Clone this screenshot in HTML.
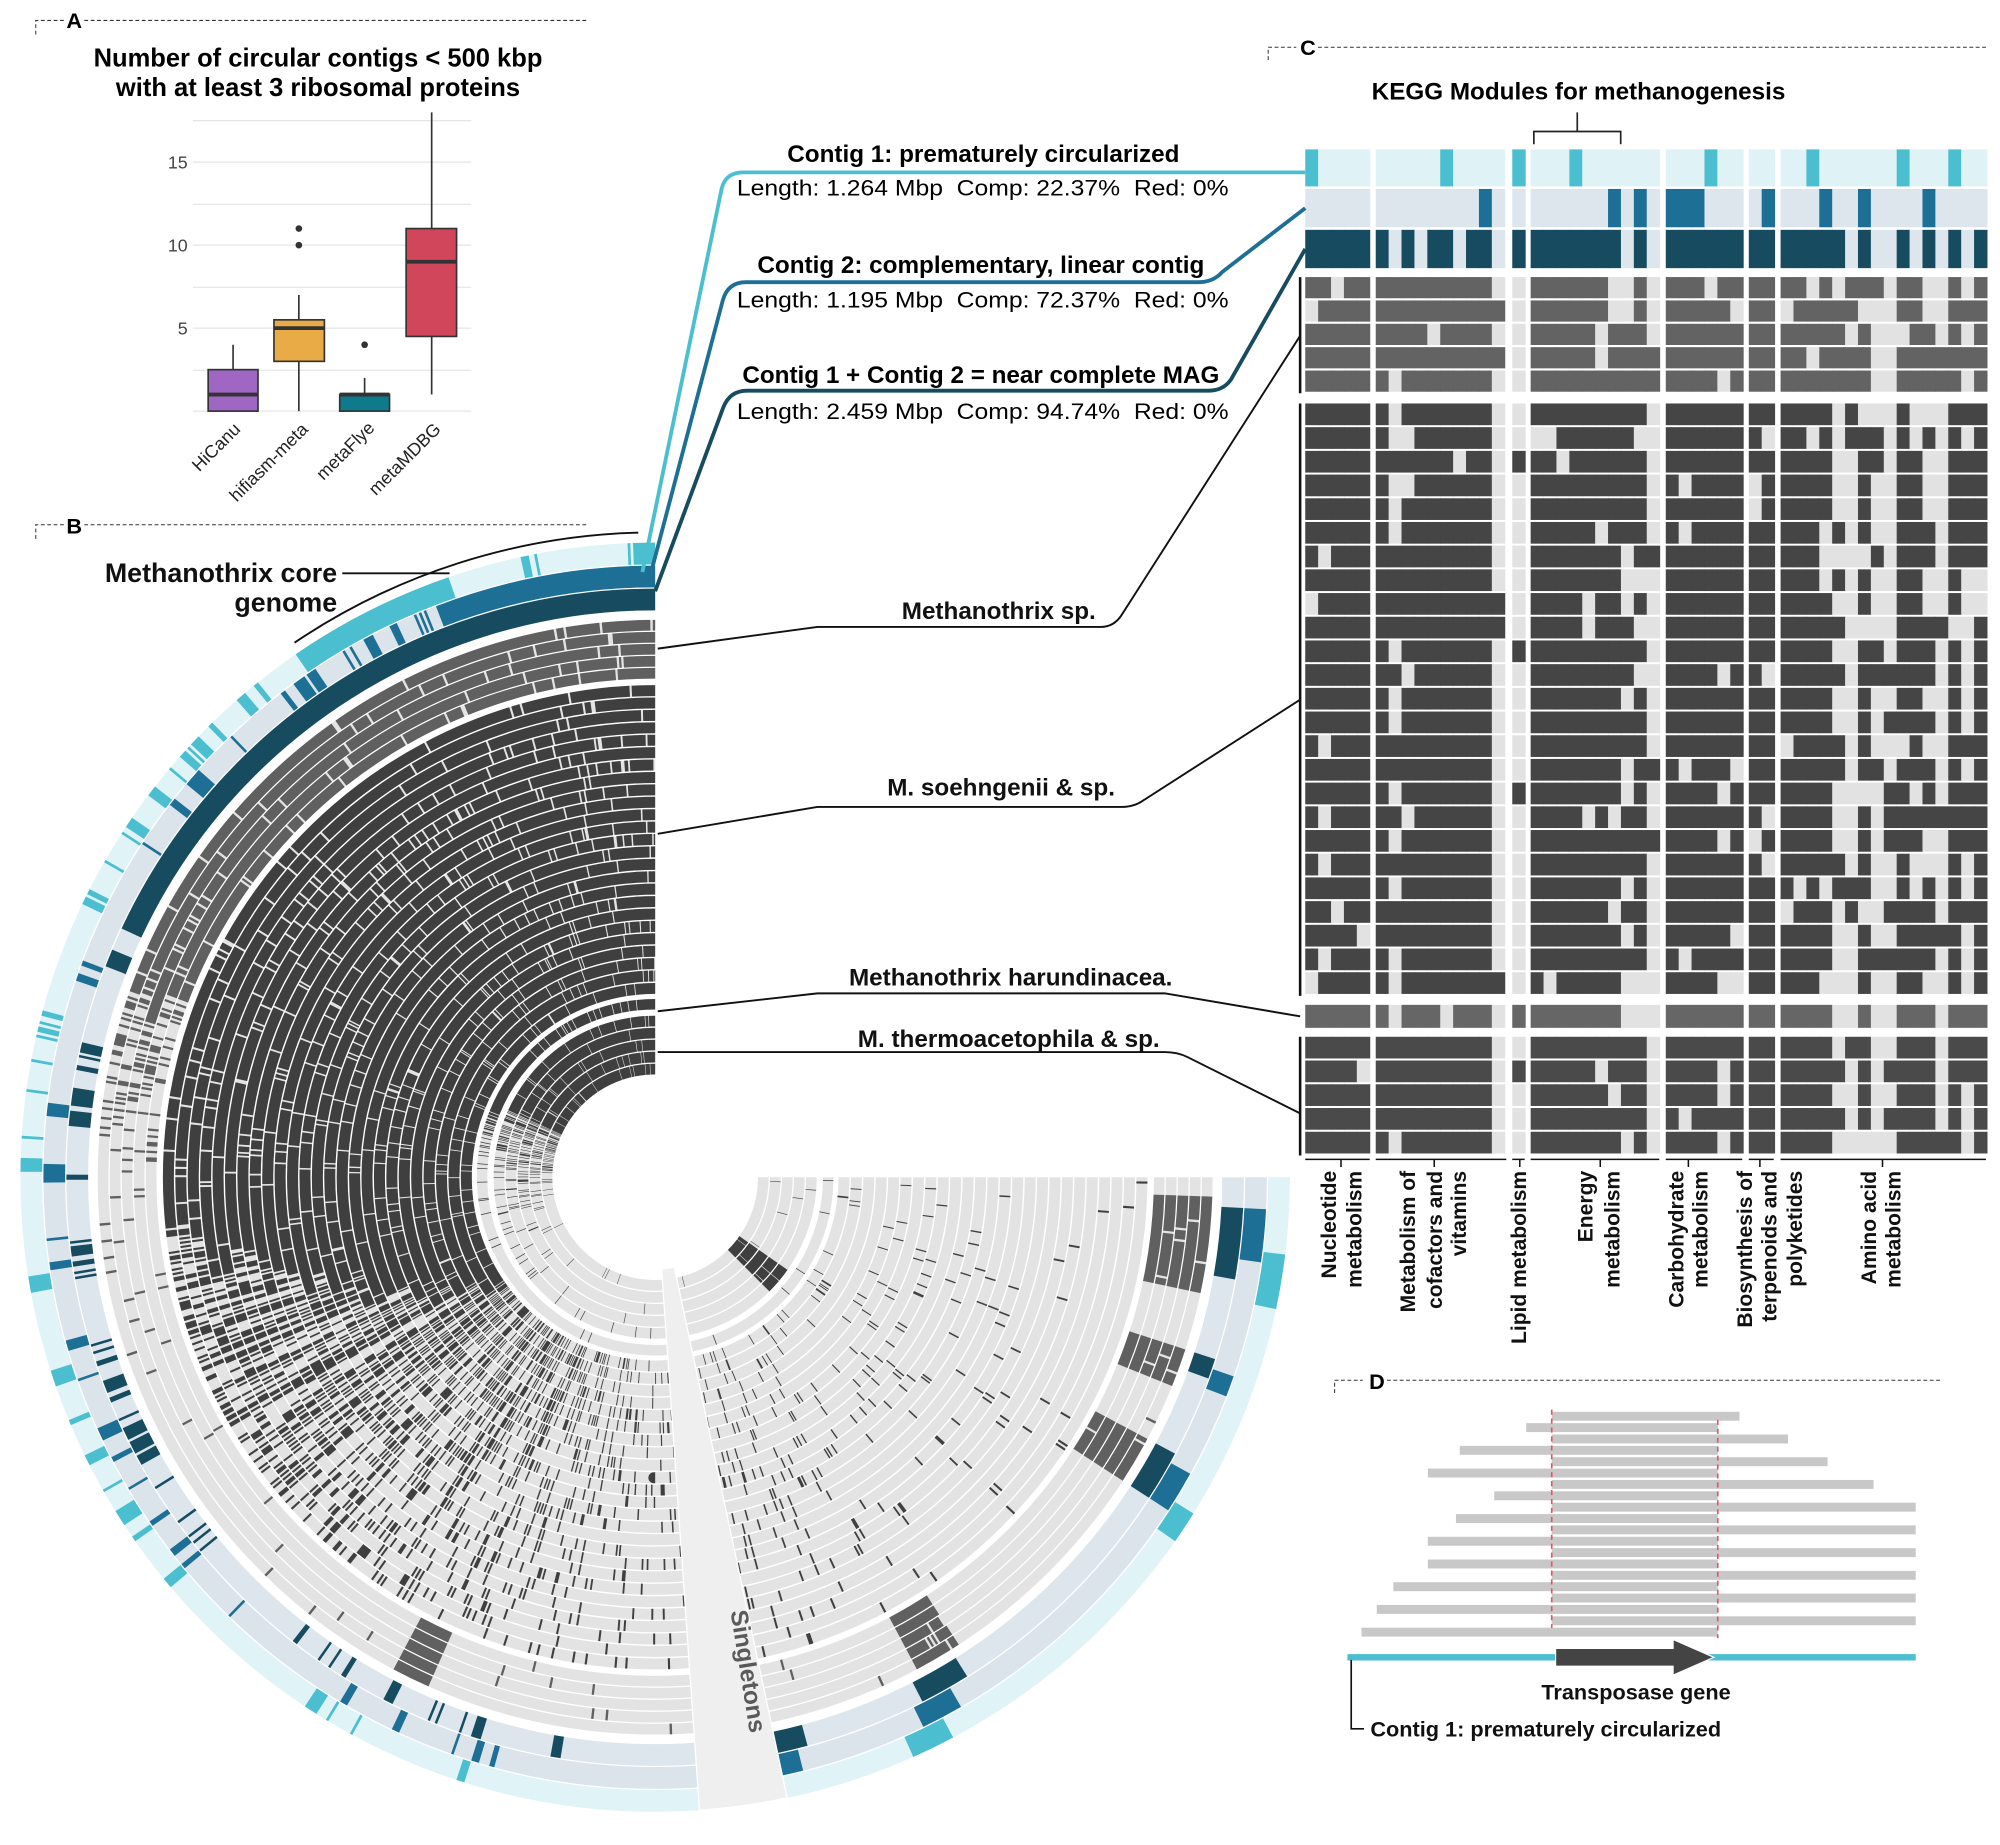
<!DOCTYPE html>
<html><head><meta charset="utf-8">
<style>
html,body{margin:0;padding:0;background:#fff;}
svg{display:block;}
.n{font-family:"Liberation Sans Narrow","Liberation Sans",sans-serif;font-weight:bold;}
.b{font-family:"Liberation Sans",sans-serif;font-weight:bold;}
.r{font-family:"Liberation Sans",sans-serif;}
</style></head>
<body>
<svg id="s" xmlns="http://www.w3.org/2000/svg" width="2000" height="1845" viewBox="0 0 1566 1445" preserveAspectRatio="none">
<rect width="1566" height="1445" fill="#fff"/>
<g stroke="#333" stroke-width="0.8" stroke-dasharray="3,2" fill="none">
<path d="M28 27 V16 H50"/><path d="M66 16 H460"/>
<path d="M28 422 V411 H50"/><path d="M66 411 H460"/>
<path d="M993 47 V37 H1015"/><path d="M1032 37 H1555"/>
<path d="M1045 1091 V1081 H1067"/><path d="M1086 1081 H1520"/>
</g>
<text class="n" x="52" y="22" font-size="17">A</text>
<text class="n" x="52" y="418" font-size="17">B</text>
<text class="n" x="1018" y="43" font-size="17">C</text>
<text class="n" x="1072" y="1088" font-size="17">D</text>

<text class="n" x="249" y="52" font-size="20" text-anchor="middle">Number of circular contigs &lt; 500 kbp</text>
<text class="n" x="249" y="75" font-size="20" text-anchor="middle">with at least 3 ribosomal proteins</text>
<g stroke="#e6e6e6" stroke-width="1">
<line x1="151" x2="369" y1="94.5" y2="94.5"/><line x1="151" x2="369" y1="127" y2="127"/>
<line x1="151" x2="369" y1="160" y2="160"/><line x1="151" x2="369" y1="192" y2="192"/>
<line x1="151" x2="369" y1="225" y2="225"/><line x1="151" x2="369" y1="257" y2="257"/>
<line x1="151" x2="369" y1="290" y2="290"/><line x1="151" x2="369" y1="322" y2="322"/>
</g>
<g class="r" font-size="14" fill="#444" text-anchor="end">
<text x="147" y="132">15</text><text x="147" y="197">10</text><text x="147" y="262">5</text>
</g>
<g stroke="#333" stroke-width="1.3">
<line x1="182.5" x2="182.5" y1="270" y2="289.5"/>
<rect x="163" y="289.5" width="39" height="32.5" fill="#a066c4"/>
<line x1="163" x2="202" y1="309" y2="309" stroke-width="3"/>
<line x1="234" x2="234" y1="231" y2="322"/>
<rect x="214.5" y="250.5" width="39.5" height="32.5" fill="#e9ab45"/>
<line x1="214.5" x2="254" y1="257" y2="257" stroke-width="3"/>
<line x1="285.5" x2="285.5" y1="296" y2="309"/>
<rect x="266" y="309" width="39" height="13" fill="#0f7a8c"/>
<line x1="266" x2="305" y1="309" y2="309" stroke-width="3"/>
<line x1="338" x2="338" y1="88" y2="309"/>
<rect x="318" y="179" width="39.5" height="84.5" fill="#d1465a"/>
<line x1="318" x2="357.5" y1="205" y2="205" stroke-width="3"/>
</g>
<g fill="#333"><circle cx="234" cy="179" r="2.6"/><circle cx="234" cy="192" r="2.6"/><circle cx="285.5" cy="270" r="2.6"/></g>
<g class="r" font-size="14" fill="#222" text-anchor="end">
<text transform="translate(189,337) rotate(-45)">HiCanu</text>
<text transform="translate(242,337) rotate(-45)">hifiasm-meta</text>
<text transform="translate(294,336) rotate(-45)">metaFlye</text>
<text transform="translate(346,337) rotate(-45)">metaMDBG</text>
</g>

<g id="circ"></g>
<g id="heat"></g>

<text class="n" x="1236" y="78" font-size="19" text-anchor="middle">KEGG Modules for methanogenesis</text>
<path d="M1201 113 V103 H1269 V113 M1235 103 V88" stroke="#222" stroke-width="1.3" fill="none"/>

<text class="n" x="770" y="127" font-size="19" text-anchor="middle">Contig 1: prematurely circularized</text>
<text class="r" x="577" y="153" font-size="17.5" textLength="385" lengthAdjust="spacingAndGlyphs">Length: 1.264 Mbp&#160;&#160;Comp: 22.37%&#160;&#160;Red: 0%</text>
<text class="n" x="768" y="214" font-size="19" text-anchor="middle">Contig 2: complementary, linear contig</text>
<text class="r" x="577" y="241" font-size="17.5" textLength="385" lengthAdjust="spacingAndGlyphs">Length: 1.195 Mbp&#160;&#160;Comp: 72.37%&#160;&#160;Red: 0%</text>
<text class="n" x="768" y="300" font-size="19" text-anchor="middle">Contig 1 + Contig 2 = near complete MAG</text>
<text class="r" x="577" y="328" font-size="17.5" textLength="385" lengthAdjust="spacingAndGlyphs">Length: 2.459 Mbp&#160;&#160;Comp: 94.74%&#160;&#160;Red: 0%</text>

<g fill="none" stroke-linejoin="round">
<path d="M503 448 L565 148 Q568 135 582 135 L1022 135" stroke="#4bbfd0" stroke-width="3"/>
<path d="M508 455 L566 235 Q570 221 584 221 L938 221 Q950 221 957 213 L1022 163" stroke="#1d6f96" stroke-width="3"/>
<path d="M513 463 L566 320 Q571 306 585 306 L946 306 Q958 306 964 297 L1022 195" stroke="#174b5f" stroke-width="3"/>
<g stroke="#111" stroke-width="1.5">
<path d="M515 508 L640 491 L862 491 Q872 491 878 482 L1018 263"/>
<path d="M515 653 L640 632 L878 632 Q888 632 895 627 L1018 548"/>
<path d="M515 792 L640 778 L912 778 L1018 796"/>
<path d="M515 824 L912 824 Q922 824 930 828 L1018 872"/>
<path d="M1018 217 V308 M1018 316 V780 M1018 812 V905" stroke-width="2"/>
<path d="M268 449 H352"/>
<path id="corearc" d=""/>
</g>
</g>
<g class="b" font-size="19" fill="#111" text-anchor="end">
<text x="858" y="485">Methanothrix sp.</text>
<text x="873" y="623">M. soehngenii &amp; sp.</text>
<text x="918" y="772">Methanothrix harundinacea.</text>
<text x="908" y="820">M. thermoacetophila &amp; sp.</text>
<text x="264" y="456" font-size="21">Methanothrix core</text>
<text x="264" y="479" font-size="21">genome</text>
</g>

<g id="collab" class="n" font-size="16.5" fill="#111" text-anchor="end"></g>

<g id="pd"></g>
<text class="b" x="1281" y="1331" font-size="17" text-anchor="middle" fill="#111">Transposase gene</text>
<path d="M1058 1300 V1354 H1068" stroke="#111" stroke-width="1.3" fill="none"/>
<text class="b" x="1073" y="1360" font-size="17" fill="#111">Contig 1: prematurely circularized</text>
</svg>
<script>
(function(){
function mb(a){return function(){a|=0;a=a+0x6D2B79F5|0;var t=Math.imul(a^a>>>15,1|a);t=t+Math.imul(t^t>>>7,61|t)^t;return((t^t>>>14)>>>0)/4294967296;}}
var rng=mb(12345);
var cx=513,cy=922;
function pt(r,a){var t=a*Math.PI/180;return [cx+r*Math.cos(t),cy+r*Math.sin(t)];}
function arcD(r,a1,a2){var p1=pt(r,a1),p2=pt(r,a2);var L=(a2-a1)>180?1:0;return 'M'+p1[0].toFixed(2)+' '+p1[1].toFixed(2)+'A'+r+' '+r+' 0 '+L+' 1 '+p2[0].toFixed(2)+' '+p2[1].toFixed(2);}
var out=[];
function addRow(r,w,bins,step,base,col){
  out.push('<path d="'+arcD(r,0,270)+'" stroke="'+base+'" stroke-width="'+w+'" fill="none"/>');
  var d='',i=0,N=bins.length;
  while(i<N){ if(bins[i]){var j=i;while(j<N&&bins[j])j++; d+=arcD(r,i*step,j*step); i=j;} else i++; }
  if(d) out.push('<path d="'+d+'" stroke="'+col+'" stroke-width="'+w+'" fill="none"/>');
}
var step=0.25,N=1080;
var w=[];for(var b=0;b<N;b++)w.push(rng());
function inR(th,arr){for(var k=0;k<arr.length;k++)if(th>=arr[k][0]&&th<=arr[k][1])return true;return false;}
function ringBins(fn){var bins=[],run=0;for(var b=0;b<N;b++){var th=(b+0.5)*step;if(run>0){bins.push(1);run--;continue;}var p=fn(th);if(p>=1){bins.push(1);continue;}if(p<0){bins.push(0);continue;}if(rng()<p){bins.push(1);run=Math.floor(rng()*rng()*8);}else bins.push(0);}return bins;}
var r3=ringBins(function(t){if(t>205)return 1;if(inR(t,[[3,10],[18,20],[28,33],[58,63],[75,78]]))return 1;if(t>150)return 0.14;if(t>95)return 0.06;return -1;});
var r2=ringBins(function(t){if(t>249)return 1;if(inR(t,[[3,8],[19,21],[29,33],[60,64],[76,79]]))return 1;if(t>195)return 0.1;if(t>100)return 0.05;return -1;});
var r1=ringBins(function(t){if(t>268)return 1;if(t>236&&t<251)return 1;if(inR(t,[[7,12],[32,35],[62,66]]))return 1;if(t>130&&t<236)return 0.08;if(t>95)return 0.04;return -1;});
addRow(488.5,17,r1,step,'#e0f3f7','#4bbfd0');
addRow(470.5,17,r2,step,'#dbe4ea','#1d6f96');
addRow(452.5,17,r3,step,'#dde6ec','#174b5f');
var rows=[];
for(var k=0;k<5;k++)rows.push({g:1,r:437-4.7-k*9.4,w:8.4});
for(var k=0;k<25;k++)rows.push({g:2,r:386-4.86-k*9.72,w:8.6,k:k});
rows.push({g:3,r:135.5,w:8.2});
for(var k=0;k<5;k++)rows.push({g:4,r:127-4.7-k*9.4,w:8.4});
rows.forEach(function(R,ri){
  var T,dec,blocks=[];
  if(R.g==1){T=196+rng()*6;dec=10;blocks=[[2,12],[18,22],[28,33],[57,62],[114,118]];}
  else if(R.g==2){T=172-R.k*1.2+rng()*6;dec=34;}
  else if(R.g==3){T=202;dec=12;}
  else {T=205;dec=18;blocks=[[35,45]];}
  var bins=[];
  for(var b=0;b<N;b++){var th=(b+0.5)*step;var p;
    if(th>T)p=0.95;else p=0.65*Math.exp(-(T-th)/dec)+0.008;
    if(inR(th,blocks))p=0.97;
    if(p<0.9)p=Math.min(1,p*(0.1+2.6*w[b]*w[b]));
    bins.push(rng()<p?1:0);}
  addRow(R.r,R.w,bins,step,'#e3e3e3',R.g==1?'#606060':'#3f3f3f');
});
var a=pt(72,78),b2=pt(497,78),c=pt(497,86),d=pt(72,86);
out.push('<path d="M'+a+' L'+b2+' A497 497 0 0 1 '+c+' L'+d+' A72 72 0 0 0 '+a+'Z" fill="#efefef" stroke="#fff" stroke-width="1"/>');
out.push('<text class="b" font-size="19" fill="#5a5a5a" transform="translate(572,1262) rotate(81)">Singletons</text>');
document.getElementById('circ').innerHTML=out.join('');
var p1=pt(505,236),p2=pt(505,268.5);
document.getElementById('corearc').setAttribute('d','M'+p1[0]+' '+p1[1]+' A505 505 0 0 1 '+p2[0]+' '+p2[1]);
var gs=[1022,1077.2,1184.1,1198.5,1304.3,1369.3,1394.2],gc=[5,10,1,10,6,2,16],cw=10.1;
var cols=[];for(var g=0;g<7;g++)for(var k=0;k<gc[g];k++)cols.push({x:gs[g]+k*cw,g:g});
var h=[];
function topRow(y,hh,base,col,set){cols.forEach(function(C,i){h.push('<rect x="'+C.x+'" y="'+y+'" width="'+(cw+0.4)+'" height="'+hh+'" fill="'+(set.indexOf(i)>=0?col:base)+'"/>');});}
topRow(117,29,'#dff3f7','#4bbfd0',[0,10,15,19,29,36,43,47]);
topRow(148,30,'#dde6ec','#1d6f96',[13,22,24,26,27,28,33,37,40,45]);
topRow(180,30,'#dde6ec','#174b5f',[0,1,2,3,4,5,7,9,10,12,13,15,16,17,18,19,20,21,22,24,26,27,28,29,30,31,32,33,34,35,36,37,38,40,43,45,47,49]);
var pc=[0.97,0.88,0.97,0.97,0.97, 0.97,0.5,0.95,0.97,0.97,0.97,0.93,0.97,0.95,0.08, 0.08, 0.97,0.92,0.97,0.97,0.93,0.93,0.97,0.6,0.75,0.08, 0.97,0.92,0.97,0.92,0.75,0.93, 0.97,0.93, 0.95,0.9,0.92,0.85,0.35,0.25,0.85,0.12,0.12,0.92,0.88,0.6,0.2,0.92,0.6,0.95];
var hr=[];
for(var k=0;k<5;k++)hr.push({y:217+k*18.3,h:16.6,c:'#636363'});
for(var k=0;k<25;k++)hr.push({y:316+k*18.56,h:17,c:'#454545'});
hr.push({y:787,h:18,c:'#666'});
for(var k=0;k<5;k++)hr.push({y:812+k*18.6,h:17,c:'#4a4a4a'});
hr.forEach(function(R){cols.forEach(function(C,i){var on=rng()<pc[i];h.push('<rect x="'+C.x+'" y="'+R.y+'" width="'+(cw+0.4)+'" height="'+R.h+'" fill="'+(on?R.c:'#e2e2e2')+'"/>');});});
document.getElementById('heat').innerHTML=h.join('');
var lab=[[1050,[['Nucleotide',1046],['metabolism',1066]]],[1123,[['Metabolism of',1108],['cofactors and',1129],['vitamins',1148]]],[1190,[['Lipid metabolism',1195]]],[1253,[['Energy',1247],['metabolism',1268]]],[1322,[['Carbohydrate',1318],['metabolism',1337]]],[1378,[['Biosynthesis of',1372],['terpenoids and',1391],['polyketides',1411]]],[1474,[['Amino acid',1469],['metabolism',1488]]]];
var gw=[[1022,1072.5],[1077.2,1179.4],[1184.1,1193.8],[1198.5,1299.2],[1304.3,1364.2],[1369.3,1388.8],[1394.2,1555]];
var cl=[];
gw.forEach(function(G,i){cl.push('<path d="M'+G[0]+' 908 H'+G[1]+' M'+lab[i][0]+' 908 V914" stroke="#111" stroke-width="1.2" fill="none"/>');});
lab.forEach(function(L){L[1].forEach(function(t){cl.push('<text transform="translate('+t[1]+',917) rotate(-90)">'+t[0]+'</text>');});});
document.getElementById('collab').innerHTML=cl.join('');
var bars=[[1215,1362],[1195,1345],[1215,1400],[1143,1345],[1215,1431],[1118,1345],[1215,1467],[1170,1345],[1215,1500],[1140,1345],[1215,1500],[1118,1345],[1215,1500],[1118,1345],[1215,1500],[1091,1345],[1215,1500],[1078,1345],[1215,1500],[1066,1345]];
var pd=[];
bars.forEach(function(B,i){var y=1109+i*8.9;pd.push('<rect x="'+B[0]+'" y="'+(y-3.3)+'" width="'+(B[1]-B[0])+'" height="7" fill="#c8c8c8"/>');});
pd.push('<path d="M1215 1104 V1275 M1345 1112 V1283" stroke="#e0566e" stroke-width="1.3" stroke-dasharray="4,3"/>');
pd.push('<rect x="1055" y="1295.5" width="445" height="5" fill="#4bbfd0"/>');
pd.push('<path d="M1218 1291 H1310 V1284 L1342 1298 L1310 1312 V1305 H1218Z" fill="#444" stroke="#fff" stroke-width="1"/>');
document.getElementById('pd').innerHTML=pd.join('');
})();
</script>
</body></html>
